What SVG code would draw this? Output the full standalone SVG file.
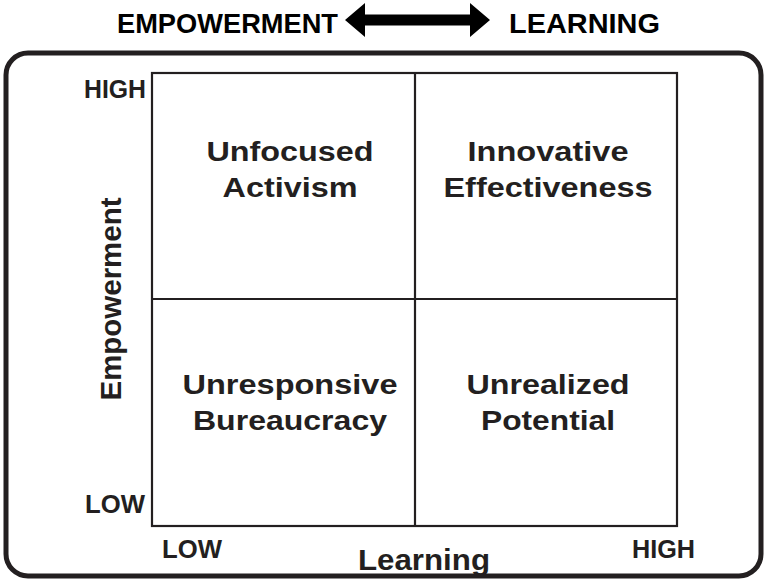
<svg xmlns="http://www.w3.org/2000/svg" width="767" height="582" viewBox="0 0 767 582">
  <style>
    text { font-family: "Liberation Sans", Arial, sans-serif; fill: #231f20; }
    .title { font-size: 28px; font-weight: bold; fill: #000; }
    .quad { font-size: 28px; font-weight: bold; text-anchor: middle; }
    .axis { font-size: 29px; font-weight: bold; }
    .tick { font-size: 25px; font-weight: bold; }
    .line { fill: none; stroke: #231f20; stroke-width: 2.2; }
  </style>
  <rect width="767" height="582" fill="#fff"/>
  <g id="header">
    <text class="title" x="117" y="33" textLength="221" lengthAdjust="spacingAndGlyphs">EMPOWERMENT</text>
    <polygon points="345,20 365,3 365,14.5 470,14.5 470,3 490,20 470,37 470,25.5 365,25.5 365,37" fill="#000"/>
    <text class="title" x="509" y="33" textLength="151" lengthAdjust="spacingAndGlyphs">LEARNING</text>
  </g>
  <g id="frame">
    <rect x="6" y="53" width="755" height="523" rx="22" ry="22" fill="none" stroke="#231f20" stroke-width="5"/>
  </g>
  <g id="connectors">
    <rect class="line" x="152" y="73" width="525" height="453"/>
    <line class="line" x1="415" y1="73" x2="415" y2="526"/>
    <line class="line" x1="152" y1="299" x2="677" y2="299"/>
  </g>
  <g id="q-unfocused">
    <text class="quad" x="290" y="161" textLength="167" lengthAdjust="spacingAndGlyphs">Unfocused</text>
    <text class="quad" x="290" y="197" textLength="135" lengthAdjust="spacingAndGlyphs">Activism</text>
  </g>
  <g id="q-innovative">
    <text class="quad" x="548" y="161" textLength="161" lengthAdjust="spacingAndGlyphs">Innovative</text>
    <text class="quad" x="548" y="197" textLength="209" lengthAdjust="spacingAndGlyphs">Effectiveness</text>
  </g>
  <g id="q-unresponsive">
    <text class="quad" x="290" y="394" textLength="215" lengthAdjust="spacingAndGlyphs">Unresponsive</text>
    <text class="quad" x="290" y="430" textLength="194" lengthAdjust="spacingAndGlyphs">Bureaucracy</text>
  </g>
  <g id="q-unrealized">
    <text class="quad" x="548" y="394" textLength="163" lengthAdjust="spacingAndGlyphs">Unrealized</text>
    <text class="quad" x="548" y="430" textLength="134" lengthAdjust="spacingAndGlyphs">Potential</text>
  </g>
  <g id="axis-labels">
    <text class="axis" transform="translate(121,299) rotate(-90)" x="0" y="0" text-anchor="middle" textLength="203" lengthAdjust="spacingAndGlyphs">Empowerment</text>
    <text class="axis" x="358" y="570" textLength="132" lengthAdjust="spacingAndGlyphs">Learning</text>
    <text class="tick" x="84" y="98" textLength="62" lengthAdjust="spacingAndGlyphs">HIGH</text>
    <text class="tick" x="85" y="513" textLength="60" lengthAdjust="spacingAndGlyphs">LOW</text>
    <text class="tick" x="162" y="558" textLength="60" lengthAdjust="spacingAndGlyphs">LOW</text>
    <text class="tick" x="632" y="558" textLength="63" lengthAdjust="spacingAndGlyphs">HIGH</text>
  </g>
</svg>
